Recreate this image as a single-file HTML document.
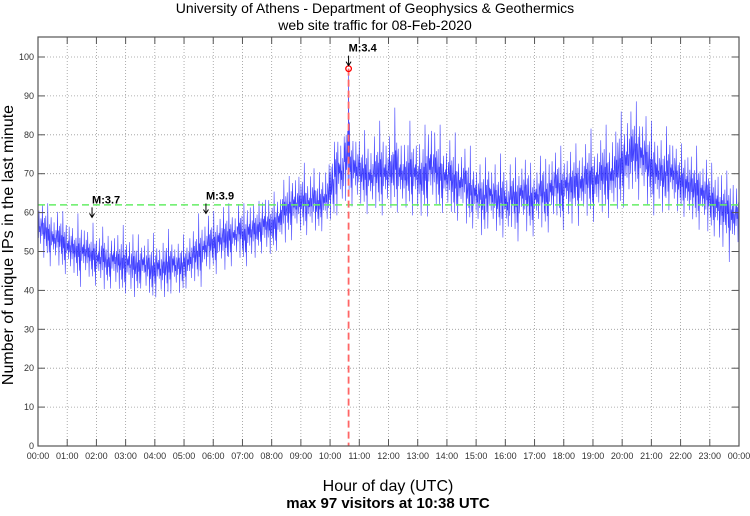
<!DOCTYPE html>
<html><head><meta charset="utf-8"><style>
body{margin:0;background:#fff;}
svg text{font-family:"Liberation Sans",sans-serif;}
</style></head><body>
<svg id="chart" width="750" height="511" viewBox="0 0 750 511" xmlns="http://www.w3.org/2000/svg">
<text x="375" y="13" text-anchor="middle" font-size="14">University of Athens - Department of Geophysics &amp; Geothermics</text>
<text x="375" y="30" text-anchor="middle" font-size="14">web site traffic for 08-Feb-2020</text>
<text transform="translate(13,245) rotate(-90)" text-anchor="middle" font-size="16">Number of unique IPs in the last minute</text>
<text x="388" y="491" text-anchor="middle" font-size="16">Hour of day (UTC)</text>
<text x="388" y="508" text-anchor="middle" font-size="15" font-weight="bold">max 97 visitors at 10:38 UTC</text>
<g id="grid"></g><g id="series"></g><g id="ann"></g><g id="axes"></g>
</svg>
<script>
const hourLabels=["00:00","01:00","02:00","03:00","04:00","05:00","06:00","07:00","08:00","09:00","10:00","11:00","12:00","13:00","14:00","15:00","16:00","17:00","18:00","19:00","20:00","21:00","22:00","23:00","00:00"];
const yTicks=[0,10,20,30,40,50,60,70,80,90,100];
const binMeans=[56,55,54,53,53,52, 51,50,50,50,49,49, 48,48,47,48,47,47, 47,46,46,47,46,45, 46,45,46,47,46,46, 47,48,49,50,51,52,
52,53,53,54,54,55, 54,55,55,56,57,56, 57,58,60,61,62,62, 63,62,63,62,63,64, 67,71,70,74,72,71, 70,70,69,70,71,70,
70,73,70,69,71,70, 68,70,72,71,70,69, 69,68,67,68,66,65, 64,63,65,64,63,64, 62,64,63,65,64,63, 64,65,64,66,67,66,
67,66,68,67,68,69, 68,69,70,69,70,72, 73,74,76,75,74,72, 71,70,69,71,70,68, 68,67,66,66,65,64, 63,62,60,61,59,59];
const binAmps=[5,6,6,5,6,6, 6,5,7,6,5,6, 6,7,5,6,6,7, 6,7,6,5,6,7, 6,6,7,6,5,6, 5,6,6,7,6,6,
6,6,7,6,5,6, 6,7,6,5,7,6, 6,6,7,6,7,6, 7,6,7,6,6,7, 8,9,8,10,8,8, 7,8,7,8,9,8,
8,10,8,7,9,8, 8,9,10,8,9,7, 8,9,7,7,8,7, 7,8,7,7,7,8, 7,7,8,7,8,7, 7,8,7,8,7,8,
7,8,7,8,8,9, 8,8,9,8,9,10, 9,10,9,9,9,9, 9,8,8,8,8,7, 7,8,7,8,7,8, 7,8,8,7,9,6];
const pattern=[0.3,-0.5,0.9,-0.2,0.1,-0.8,0.5,0.2,-0.4,1.2,-0.1,0.4,-1.1,0.6,-0.3,0.0,0.7,-0.6,0.2,-0.9,1.4,-0.2,0.3,-0.7,0.5,-1.3,0.1,0.8,-0.4,0.2,-0.1];
const baseline=62;
const peakMinute=638, peakValue=97;
const events=[{label:"M:3.7",minute:111,value:58},{label:"M:3.9",minute:345,value:59},{label:"M:3.4",minute:638,value:97}];

const X0=38,X1=739,Y0=446,Y100=57,TOP=37;
const sx=m=>X0+(X1-X0)*m/1440;
const sy=v=>Y0-(Y0-Y100)*v/100;
const NS="http://www.w3.org/2000/svg";
function mk(tag,attrs,parent){const e=document.createElementNS(NS,tag);for(const k in attrs)e.setAttribute(k,attrs[k]);parent.appendChild(e);return e;}
const grid=document.getElementById('grid'),axes=document.getElementById('axes'),series=document.getElementById('series'),ann=document.getElementById('ann');

hourLabels.forEach((l,i)=>{const x=sx(i*60);
 if(i>0&&i<24){const g=mk('line',{x1:x,x2:x,y1:TOP,y2:Y0,stroke:'#999','stroke-width':0.8,'stroke-dasharray':'1,2'},grid);
 }
 const t1=mk('line',{x1:x,x2:x,y1:Y0,y2:Y0-7,stroke:'#555','stroke-width':1},axes);
 
 const t2=mk('line',{x1:x,x2:x,y1:TOP,y2:TOP+7,stroke:'#555','stroke-width':1},axes);
 
 const t=mk('text',{x:x,y:Y0+13,'text-anchor':'middle','font-size':9,fill:'#333'},axes);t.textContent=l;
 
});
yTicks.forEach(v=>{const y=sy(v);
 if(v>0){const g=mk('line',{x1:X0,x2:X1,y1:y,y2:y,stroke:'#999','stroke-width':0.8,'stroke-dasharray':'1,2'},grid);
 }
 const a=mk('line',{x1:X0,x2:X0+7,y1:y,y2:y,stroke:'#555'},axes);
 const b=mk('line',{x1:X1,x2:X1-7,y1:y,y2:y,stroke:'#555'},axes);
 const t=mk('text',{x:X0-4,y:y+3,'text-anchor':'end','font-size':9,fill:'#333'},axes);t.textContent=v;
 
});
const fr=mk('rect',{x:X0,y:TOP,width:X1-X0,height:Y0-TOP,fill:'none',stroke:'#555','stroke-width':1.2},axes);


let pts=[];
binMeans.forEach((m,b)=>{for(let k=0;k<10;k++){const minute=b*10+k;let v=m+binAmps[b]*pattern[minute%pattern.length];if(minute===peakMinute)v=peakValue;pts.push(sx(minute).toFixed(2)+','+sy(v).toFixed(2));}});
const line=mk('polyline',{points:pts.join(' '),fill:'none',stroke:'#0000ff','stroke-width':0.6,'stroke-opacity':0.75},series);


const bl=mk('line',{x1:X0,x2:X1,y1:sy(baseline),y2:sy(baseline),stroke:'#66ee66','stroke-width':1.5,'stroke-dasharray':'7,4'},ann);

const pl=mk('line',{x1:sx(peakMinute),x2:sx(peakMinute),y1:sy(peakValue),y2:Y0,stroke:'#ff6666','stroke-width':1.8,'stroke-dasharray':'7,4'},ann);

const pc=mk('circle',{cx:sx(peakMinute),cy:sy(peakValue),r:2.8,fill:'none',stroke:'#ff0000','stroke-width':1.3},ann);

events.forEach(e=>{const x=sx(e.minute),y=sy(e.value)-3;
 const a=mk('path',{d:`M${x},${y-10}L${x},${y}M${x-2.5},${y-4}L${x},${y}L${x+2.5},${y-4}`,stroke:'#000',fill:'none','stroke-width':1},ann);
 
 const t=mk('text',{x:x,y:y-14,'font-size':11,'font-weight':'bold'},ann);t.textContent=e.label;
 
});
</script>
</body></html>
